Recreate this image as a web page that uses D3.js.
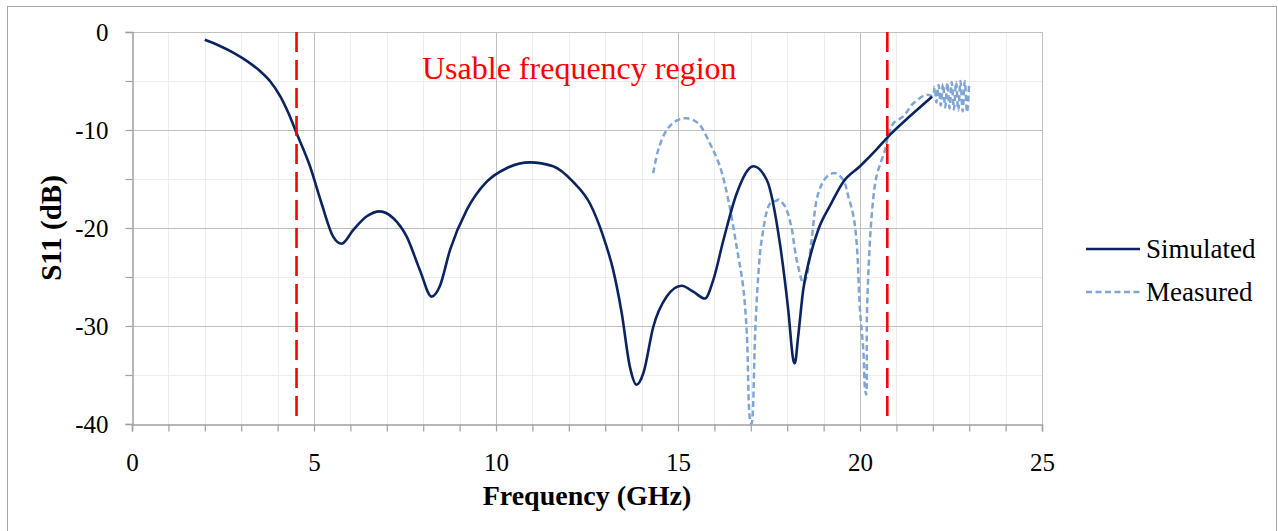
<!DOCTYPE html>
<html><head><meta charset="utf-8">
<script src="https://cdn.jsdelivr.net/npm/d3@7"></script>
<style>body{margin:0;background:#fff}svg{display:block}text{font-family:"Liberation Serif","Times New Roman",serif}</style>
</head><body><svg id="c" width="1278" height="531"></svg>
<script>
const simFreq = [2.0,2.4,2.78,3.15,3.52,3.8,4.07,4.3,4.52,4.89,5.2,5.53,5.76,6.08,6.45,6.81,7.18,7.55,7.91,8.23,8.45,8.74,9.19,9.74,10.29,10.93,11.57,12.12,12.58,12.95,13.22,13.45,13.68,13.86,14.05,14.32,14.69,15.1,15.42,15.74,15.97,16.25,16.61,17.07,17.44,17.8,18.03,18.17,18.21,18.3,18.44,18.63,18.85,19.18,19.54,20.0,20.45,20.82,21.4,21.98];
const simS11  = [-0.8,-1.4,-2.1,-2.95,-4.0,-5.05,-6.55,-8.3,-10.3,-13.7,-17.4,-20.9,-21.6,-20.2,-18.8,-18.3,-19.0,-20.9,-24.3,-27.0,-26.0,-22.2,-18.2,-15.3,-13.9,-13.3,-13.7,-15.3,-17.5,-20.9,-24.3,-28.6,-34.2,-36.0,-34.8,-30.1,-27.0,-25.9,-26.5,-27.2,-25.3,-21.2,-16.5,-13.7,-15.1,-21.6,-28.4,-33.5,-33.8,-31.1,-26.3,-22.9,-20.2,-17.7,-15.3,-13.7,-12.0,-10.5,-8.5,-6.6];
const measFreq = [14.32,14.46,14.69,14.96,15.23,15.55,15.88,16.15,16.38,16.61,16.79,16.89,16.98,17.02,17.12,17.21,17.3,17.53,17.71,17.76,17.94,18.12,18.21,18.3,18.44,18.53,18.67,18.85,19.08,19.31,19.54,19.68,19.82,19.91,20.0,20.09,20.14,20.17,20.19,20.23,20.32,20.45,20.69,20.78,20.92,21.19,21.46,21.83,22.0,22.05,22.1,22.16,22.22,22.28,22.34,22.4,22.46,22.52,22.58,22.64,22.7,22.76,22.82,22.88,22.94,23.0];
const measS11  = [-14.4,-12.0,-10.0,-9.05,-8.8,-9.3,-11.4,-13.7,-17.1,-21.9,-26.0,-30.7,-39.6,-40.0,-30.7,-24.6,-21.2,-17.5,-17.2,-17.1,-17.8,-20.0,-22.2,-23.9,-25.6,-25.0,-21.2,-16.5,-14.8,-14.4,-15.1,-16.8,-18.8,-21.6,-28.4,-32.4,-36.5,-37.0,-29.0,-24.6,-18.8,-14.8,-12.0,-10.5,-9.3,-8.6,-7.3,-6.4,-6.5,-5.6,-7.2,-5.4,-7.5,-5.3,-7.7,-5.2,-7.8,-5.1,-7.9,-5.1,-8.0,-5.0,-8.1,-5.0,-8.2,-5.2];
const xTicks = [0,5,10,15,20,25];
const yTicks = [0,-10,-20,-30,-40];
const markers = [4.52,20.75];
const seriesNames = ["Simulated","Measured"];

const svg = d3.select("#c");
const L=132,R=1042,T=32,B=424;
const x = d3.scaleLinear().domain([0,25]).range([L,R]);
const y = d3.scaleLinear().domain([-40,0]).range([B,T]);

svg.append("rect").attr("x",7.5).attr("y",6.5).attr("width",1269).attr("height",540).attr("fill","none").attr("stroke","#a6a6a6").attr("stroke-width",1);

const g = svg.append("g");
g.selectAll(".mx").data(d3.range(1,25).filter(d=>d%5)).enter().append("line")
 .attr("x1",d=>Math.round(x(d))+0.5).attr("x2",d=>Math.round(x(d))+0.5).attr("y1",T).attr("y2",B).attr("stroke","#ededed");
g.selectAll(".my").data([-5,-15,-25,-35]).enter().append("line")
 .attr("y1",d=>Math.round(y(d))+0.5).attr("y2",d=>Math.round(y(d))+0.5).attr("x1",L).attr("x2",R).attr("stroke","#ededed");
g.selectAll(".Mx").data([5,10,15,20,25]).enter().append("line")
 .attr("x1",d=>Math.round(x(d))+0.5).attr("x2",d=>Math.round(x(d))+0.5).attr("y1",T).attr("y2",B).attr("stroke","#bfbfbf");
g.selectAll(".My").data([0,-10,-20,-30]).enter().append("line")
 .attr("y1",d=>Math.round(y(d))+0.5).attr("y2",d=>Math.round(y(d))+0.5).attr("x1",L).attr("x2",R).attr("stroke","#bfbfbf");

const xAxis = d3.axisBottom(x).tickValues(d3.range(0,26)).tickSize(7).tickFormat(d=>xTicks.includes(d)?d:"");
const ax = svg.append("g").attr("transform",`translate(0,${Math.round(B)+0.5})`).call(xAxis);
ax.select(".domain").attr("stroke","#a0a0a0").attr("stroke-width",1.5);
ax.selectAll(".tick line").attr("stroke","#a0a0a0").attr("stroke-width",1.2);
ax.selectAll("text").attr("font-size",25).attr("fill","#000").attr("y",0).attr("dy",46).attr("font-family","Liberation Serif");
const yAxis = d3.axisLeft(y).tickValues([0,-5,-10,-15,-20,-25,-30,-35,-40]).tickSize(7).tickFormat(d=>yTicks.includes(d)?d:"").tickPadding(17);
const ay = svg.append("g").attr("transform",`translate(${Math.round(L)+0.5},0)`).call(yAxis);
ay.select(".domain").attr("stroke","#a0a0a0").attr("stroke-width",1.5);
ay.selectAll(".tick line").attr("stroke","#a0a0a0").attr("stroke-width",1.2);
ay.selectAll("text").attr("font-size",25).attr("fill","#000").attr("font-family","Liberation Serif").text(function(d){return yTicks.includes(d)? (d<0?"-"+(-d):d):"";});

const lineSim = d3.line().x(d=>x(d[0])).y(d=>y(d[1])).curve(d3.curveMonotoneX);
const lineMeas = d3.line().x(d=>x(d[0])).y(d=>y(d[1])).curve(d3.curveCatmullRom.alpha(0.5));
const sim = simFreq.map((f,i)=>[f,simS11[i]]);
const meas = measFreq.map((f,i)=>[f,measS11[i]]);
svg.append("path").attr("d",lineMeas(meas)).attr("fill","none").attr("stroke","#7fa5d4").attr("stroke-width",2.5).attr("stroke-dasharray","6,3.5");
svg.append("path").attr("d",lineSim(sim)).attr("fill","none").attr("stroke","#0b2460").attr("stroke-width",2.6);

svg.selectAll(".mk").data(markers).enter().append("line")
 .attr("x1",d=>x(d)).attr("x2",d=>x(d)).attr("y1",T).attr("y2",B)
 .attr("stroke","#ff0000").attr("stroke-width",2.6).attr("stroke-dasharray","20,8");

svg.append("text").attr("x",422).attr("y",79).attr("font-size",32).attr("fill","#ff0000").text("Usable frequency region");

svg.append("text").attr("x",587).attr("y",505).attr("text-anchor","middle").attr("font-size",28).attr("font-weight","bold").text("Frequency (GHz)");
svg.append("text").attr("transform","translate(61,228) rotate(-90)").attr("text-anchor","middle").attr("font-size",29).attr("font-weight","bold").text("S11 (dB)");

const lg = svg.append("g");
lg.append("line").attr("x1",1086).attr("x2",1140).attr("y1",249).attr("y2",249).attr("stroke","#0b2460").attr("stroke-width",2.6);
lg.append("text").attr("x",1146).attr("y",258).attr("font-size",27).text(seriesNames[0]);
lg.append("line").attr("x1",1086).attr("x2",1140).attr("y1",292).attr("y2",292).attr("stroke","#7fa5d4").attr("stroke-width",2.5).attr("stroke-dasharray","6,3.5");
lg.append("text").attr("x",1146).attr("y",301).attr("font-size",27).text(seriesNames[1]);
</script></body></html>
